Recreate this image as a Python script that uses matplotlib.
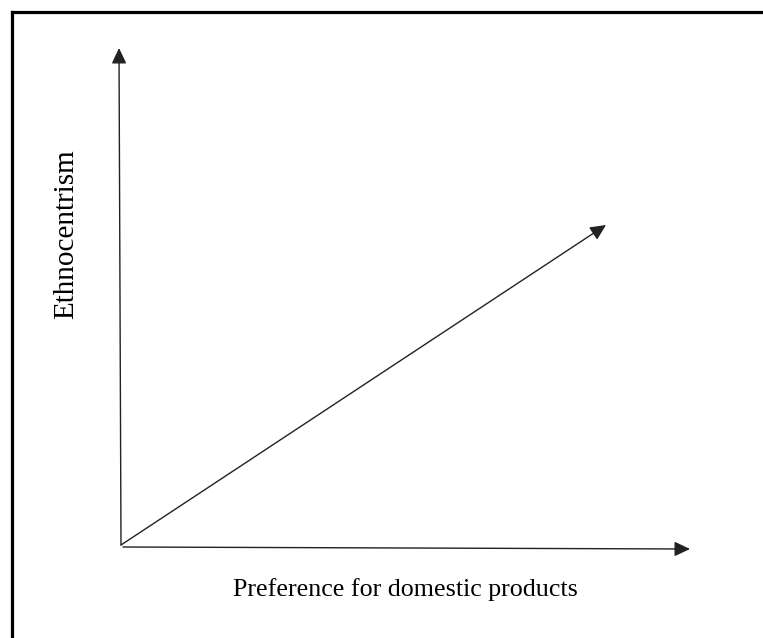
import matplotlib
matplotlib.use("Agg")
import matplotlib.pyplot as plt

# diagram coordinates (pixels of the 763x638 canvas, y downward)
origin = (121, 545)
y_tip = (119, 48)
x_start = (123, 547)
x_tip = (690, 549)
diag_tip = (606, 225)

x_label = "Preference for domestic products"
y_label = "Ethnocentrism"

fig = plt.figure(figsize=(7.63, 6.38), dpi=100)
ax = fig.add_axes([0, 0, 1, 1])
ax.set_xlim(0, 763)
ax.set_ylim(638, 0)
ax.axis("off")

# frame (only top and left visible)
ax.plot([12, 12], [12, 638], color="black", lw=2.3, solid_capstyle="projecting")
ax.plot([12, 763], [12, 12], color="black", lw=2.3, solid_capstyle="projecting")

arrow = dict(arrowstyle="-|>,head_length=0.95,head_width=0.45",
             mutation_scale=10, color="#222222", lw=1.0,
             shrinkA=0, shrinkB=0)
ax.annotate("", xy=y_tip, xytext=origin, arrowprops=arrow)
ax.annotate("", xy=x_tip, xytext=x_start, arrowprops=arrow)
ax.annotate("", xy=diag_tip, xytext=origin, arrowprops=arrow)

serif = ["Liberation Serif", "DejaVu Serif"]
ax.text(405, 590, x_label, ha="center", va="center", fontsize=18.7, family=serif)
ax.text(66, 234, y_label, ha="center", va="center", fontsize=21,
        rotation=90, family=serif)

fig.savefig("out.png", dpi=100)
